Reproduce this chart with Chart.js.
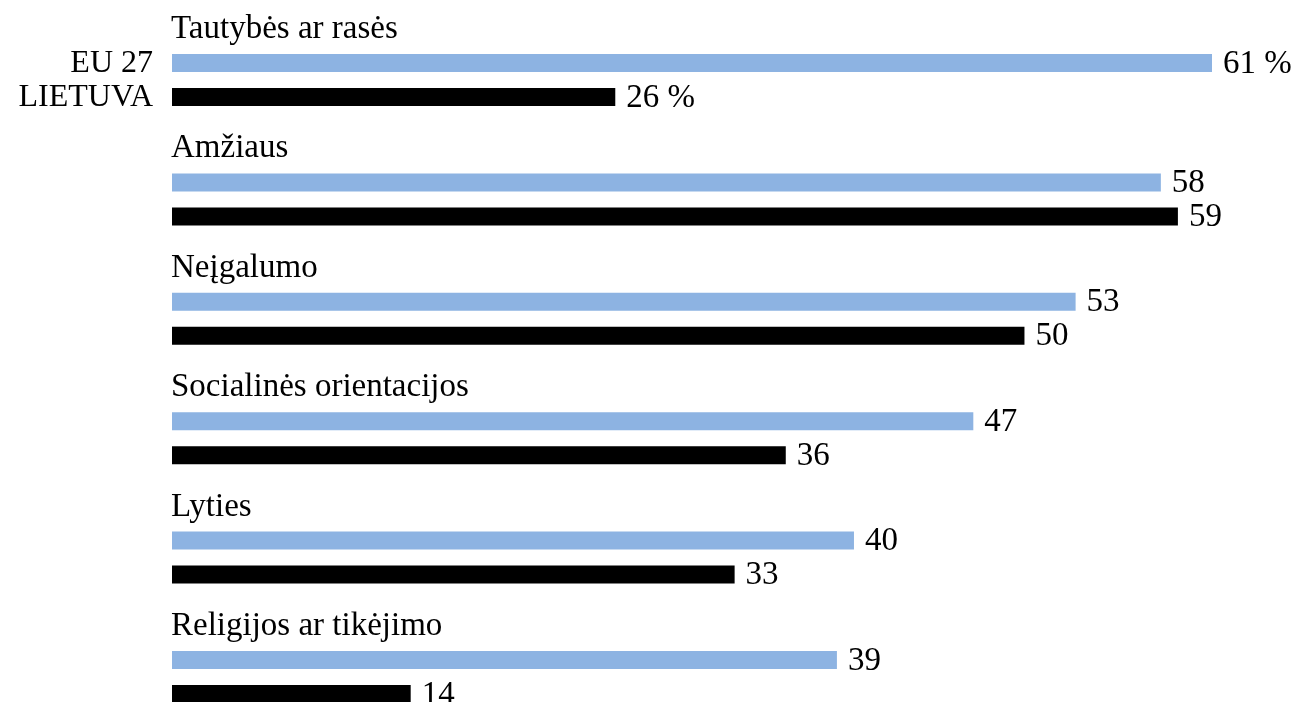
<!DOCTYPE html>
<html lang="lt">
<head>
<meta charset="utf-8">
<title>Diskriminacija</title>
<script src="https://cdn.jsdelivr.net/npm/chart.js@4.4.1/dist/chart.umd.min.js"></script>
<style>
  html, body { margin: 0; padding: 0; background: #fff; }
  #wrap { width: 1296px; height: 702px; overflow: hidden; }
  canvas { display: block; }
</style>
</head>
<body>
<div id="wrap"><canvas id="c" width="1296" height="740"></canvas></div>
<script>
const categories = [
  'Tautybės ar rasės',
  'Amžiaus',
  'Neįgalumo',
  'Socialinės orientacijos',
  'Lyties',
  'Religijos ar tikėjimo'
];
const seriesNames = ['EU 27', 'LIETUVA'];
const eu27 = [61, 58, 53, 47, 40, 39];
const lietuva = [26, 59, 50, 36, 33, 14];

const FONT = '33px "Liberation Serif", "Times New Roman", serif';
const SERIES_FONT = '32px "Liberation Serif", "Times New Roman", serif';

// Category titles above each pair of bars, value labels after each bar,
// and series names to the left of the first pair.
const labelPlugin = {
  id: 'barLabels',
  afterDatasetsDraw(chart) {
    const ctx = chart.ctx;
    const area = chart.chartArea;
    ctx.save();
    ctx.font = FONT;
    ctx.fillStyle = '#000';

    const euMeta = chart.getDatasetMeta(0);
    const ltMeta = chart.getDatasetMeta(1);

    // category titles
    ctx.textAlign = 'left';
    ctx.textBaseline = 'alphabetic';
    euMeta.data.forEach((bar, i) => {
      ctx.fillText(categories[i], area.left - 1, bar.y - 25);
    });

    // value labels
    ctx.textBaseline = 'middle';
    [euMeta, ltMeta].forEach((meta, di) => {
      const values = chart.data.datasets[di].data;
      meta.data.forEach((bar, i) => {
        const txt = i === 0 ? values[i] + ' %' : String(values[i]);
        ctx.fillText(txt, bar.x + 11, bar.y + 1);
      });
    });

    // series names beside the first group
    ctx.font = SERIES_FONT;
    ctx.textAlign = 'right';
    ctx.fillText(seriesNames[0], area.left - 19, euMeta.data[0].y + 1);
    ctx.fillText(seriesNames[1], area.left - 19, ltMeta.data[0].y + 1);
    ctx.restore();
  }
};

new Chart(document.getElementById('c'), {
  type: 'bar',
  data: {
    labels: categories,
    datasets: [
      { label: seriesNames[0], data: eu27, backgroundColor: '#8DB3E2' },
      { label: seriesNames[1], data: lietuva, backgroundColor: '#000000' }
    ]
  },
  options: {
    indexAxis: 'y',
    responsive: false,
    animation: false,
    devicePixelRatio: 1,
    categoryPercentage: 0.5695,
    barPercentage: 0.529,
    layout: { padding: { left: 172, right: 15.8, top: 20.3, bottom: 3.3 } },
    scales: {
      x: { type: 'linear', min: 0, max: 65, display: false },
      y: { display: false }
    },
    plugins: {
      legend: { display: false },
      tooltip: { enabled: false }
    }
  },
  plugins: [labelPlugin]
});
</script>
</body>
</html>
